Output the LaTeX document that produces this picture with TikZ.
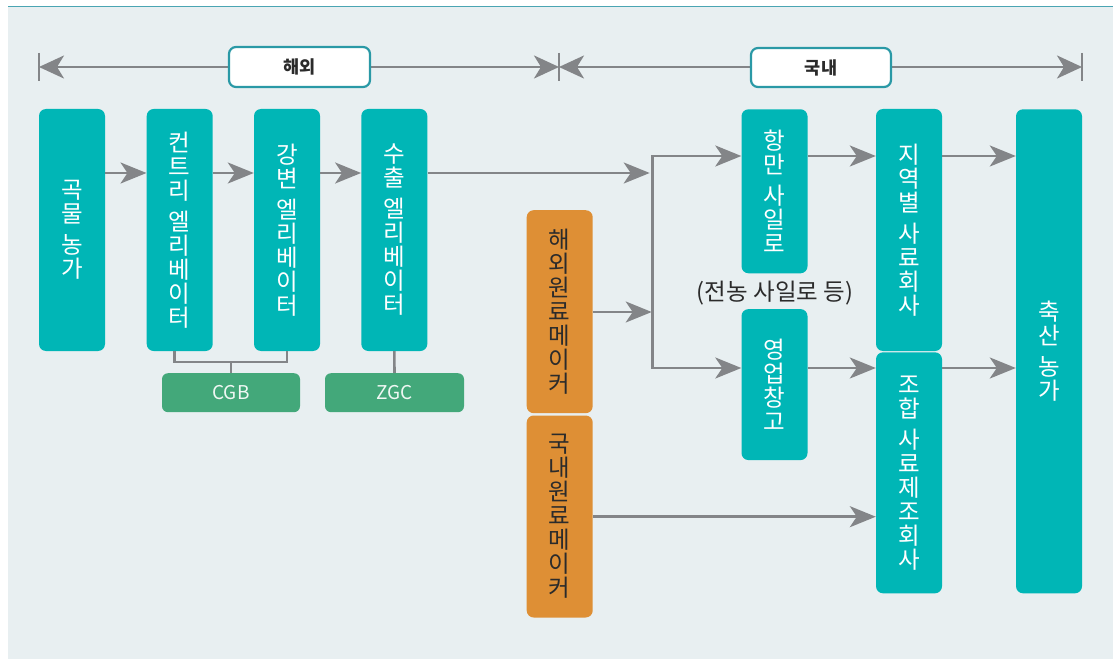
\documentclass[tikz,border=0pt]{standalone}
\usepackage{fontspec}
\setmainfont{Noto Sans CJK KR}
\usetikzlibrary{arrows.meta}
\definecolor{bgc}{HTML}{E8EFF1}
\definecolor{teal1}{HTML}{00B6B6}
\definecolor{orange1}{HTML}{DE8F35}
\definecolor{green1}{HTML}{43A87A}
\definecolor{grayline}{HTML}{838588}
\definecolor{labborder}{HTML}{2A99A6}
\definecolor{topline}{HTML}{4AA5B3}
\definecolor{darktext}{HTML}{2B2B2B}
\tikzset{
  box/.style={draw=none, rounded corners=7pt, inner sep=0pt, align=center,
    font=\fontsize{23.5}{24}\selectfont},
  tealbox/.style={box, fill=teal1, text=white},
  orangebox/.style={box, fill=orange1, text=darktext},
  greenbox/.style={draw=none, fill=green1, rounded corners=6pt, text=white!92!green1,
    font=\fontsize{19}{21}\selectfont, inner sep=0pt},
  labbox/.style={draw=labborder, line width=2.2pt, fill=white, rounded corners=7pt,
    font=\bfseries\fontsize{17.5}{19}\selectfont, text=darktext, inner sep=0pt},
  arr/.style={draw=grayline, line width=2.6pt, -{Stealth[length=26pt,width=21pt,inset=7pt]}},
  tarr/.style={draw=grayline, line width=2.6pt, {Stealth[length=25pt,width=23pt,inset=7pt]}-{Stealth[length=25pt,width=23pt,inset=7pt]}},
  conn/.style={draw=grayline, line width=2.6pt},
  endbar/.style={draw=grayline, line width=2pt},
}
\newcommand{\vgap}{\\[7pt]}
\begin{document}
\begin{tikzpicture}[x=1pt,y=-1pt]
\useasboundingbox (0,0) rectangle (1113,660);
\fill[bgc] (8,7) rectangle (1113,659);
\draw[topline, line width=1.6pt] (8,6.5) -- (1113,6.5);

% top ranges
\coordinate (la) at (39,67);
\coordinate (lm) at (559,67);
\coordinate (lb) at (1082,67);
\draw[endbar] (39,53) -- (39,81);
\draw[endbar] (559,53) -- (559,81);
\draw[endbar] (1082,53) -- (1082,81);
\draw[tarr] (la) -- (lm);
\draw[tarr] (lm) -- (lb);
\node[labbox, minimum width=141pt, minimum height=40pt] (haeoe) at (299.5,67) {해외};
\node[labbox, minimum width=140pt, minimum height=39pt] (gungnae) at (821,67.5) {국내};

% boxes
\node[tealbox, minimum width=66pt, minimum height=242pt] (farm) at (72,230) {곡\\물\vgap 농\\가};
\node[tealbox, minimum width=66pt, minimum height=242pt] (country) at (179.7,230) {컨\\트\\리\vgap 엘\\리\\베\\이\\터};
\node[tealbox, minimum width=66pt, minimum height=242pt] (river) at (287,230) {강\\변\vgap 엘\\리\\베\\이\\터};
\node[tealbox, minimum width=66pt, minimum height=242pt] (export) at (394.3,230) {수\\출\vgap 엘\\리\\베\\이\\터};

\node[greenbox, minimum width=138pt, minimum height=39pt] (cgb) at (231,392.7) {CGB};
\node[greenbox, minimum width=139pt, minimum height=39pt] (zgc) at (394.5,392.7) {ZGC};

\node[orangebox, minimum width=66pt, minimum height=203pt] (ovmaker) at (559.7,311.7) {해\\외\\원\\료\\메\\이\\커};
\node[orangebox, minimum width=66pt, minimum height=202pt] (dommaker) at (559.7,516.5) {국\\내\\원\\료\\메\\이\\커};

\node[tealbox, minimum width=66pt, minimum height=164pt] (silo) at (774.5,191.3) {항\\만\vgap 사\\일\\로};
\node[font=\fontsize{23.5}{24}\selectfont, text=darktext, inner sep=0pt] (silonote) at (775,293) {(전농 사일로 등)};
\node[tealbox, minimum width=66pt, minimum height=151pt] (warehouse) at (774.5,384.6) {영\\업\\창\\고};

\node[tealbox, minimum width=66pt, minimum height=242pt] (regional) at (909,230) {지\\역\\별\vgap 사\\료\\회\\사};
\node[tealbox, minimum width=66pt, minimum height=241pt] (coop) at (909,472.8) {조\\합\vgap 사\\료\\제\\조\\회\\사};
\node[tealbox, minimum width=66pt, minimum height=484pt] (livestock) at (1049,351.3) {축\\산\vgap 농\\가};

% helper coordinates
\coordinate (r1) at (0,173);
\coordinate (jm) at (652.7,173);
\coordinate (jt) at (652.7,156);
\coordinate (jb) at (652.7,368);
\coordinate (jo) at (652.7,312);
\coordinate (rdom) at (0,516.7);

% flow arrows
\draw[arr] (farm.east |- r1) -- (country.west |- r1);
\draw[arr] (country.east |- r1) -- (river.west |- r1);
\draw[arr] (river.east |- r1) -- (export.west |- r1);
\draw[arr] (export.east |- r1) -- ([xshift=-3pt]jm);
\draw[arr] (ovmaker.east |- jo) -- ([xshift=-1pt]jo);
\draw[conn] (jt) -- (jb);
\draw[arr] ([xshift=-1.3pt]jt) -- (silo.west |- jt);
\draw[arr] ([xshift=-1.3pt]jb) -- (warehouse.west |- jb);
\draw[arr] (silo.east |- jt) -- (regional.west |- jt);
\draw[arr] (warehouse.east |- jb) -- (coop.west |- jb);
\draw[arr] (regional.east |- jt) -- (livestock.west |- jt);
\draw[arr] (coop.east |- jb) -- (livestock.west |- jb);
\draw[arr] (dommaker.east |- rdom) -- (coop.west |- rdom);

% bracket connectors
\draw[conn] ([xshift=-5pt]country.south) -- ++(0,10.7) -| (river.south);
\draw[conn] (cgb.north) -- ++(0,-11.3);
\draw[conn] (export.south) -- (zgc.north);
\end{tikzpicture}
\end{document}
